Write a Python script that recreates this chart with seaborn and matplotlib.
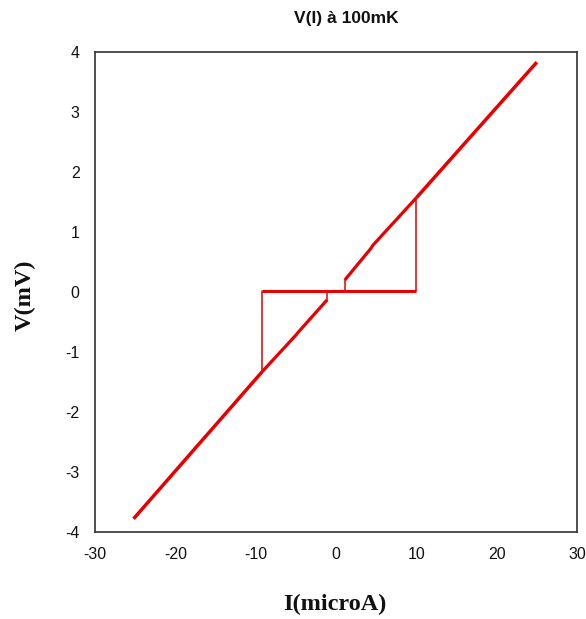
import matplotlib
matplotlib.use("Agg")
import matplotlib.pyplot as plt
import seaborn as sns
import pandas as pd

# Data (I in microA, V in mV)
lower_main_I = [-25.2, -9.2]
lower_main_V = [-3.78, -1.33]
lower_branch_I = [-9.2, -5.0, -4.7, -1.1]
lower_branch_V = [-1.33, -0.72, -0.67, -0.13]
zero_I = [-9.2, 10.0]
zero_V = [0.02, 0.02]
upper_branch_I = [1.1, 4.3, 4.6, 10.0]
upper_branch_V = [0.20, 0.72, 0.78, 1.57]
upper_main_I = [10.0, 25.0]
upper_main_V = [1.57, 3.83]

jump_I = [[-9.2, -9.2], [-1.1, -1.1], [1.1, 1.1], [10.0, 10.0]]
jump_V = [[0.02, -1.33], [-0.13, 0.02], [0.20, 0.02], [0.02, 1.57]]

xticks = [-30, -20, -10, 0, 10, 20, 30]
yticks = [-4, -3, -2, -1, 0, 1, 2, 3, 4]

sns.set_style("white")
plt.rcParams['font.family'] = ['Liberation Sans', 'DejaVu Sans']

fig = plt.figure(figsize=(5.86, 6.19), dpi=100)
ax = fig.add_axes([95/586, 1-532/619, 482/586, 480/619])

red = '#e80000'
thick = [(lower_main_I, lower_main_V, 2.5), (lower_branch_I, lower_branch_V, 2.3),
         (zero_I, zero_V, 2.2), (upper_branch_I, upper_branch_V, 2.3),
         (upper_main_I, upper_main_V, 2.5)]
for I, V, lw in thick:
    df = pd.DataFrame({'I': I, 'V': V})
    sns.lineplot(data=df, x='I', y='V', sort=False, estimator=None, color=red,
                 lw=lw, ax=ax, solid_capstyle='butt')
for I, V in zip(jump_I, jump_V):
    df = pd.DataFrame({'I': I, 'V': V})
    sns.lineplot(data=df, x='I', y='V', sort=False, estimator=None, color=red,
                 lw=1.1, ax=ax)

ax.set_xlim(-30, 30)
ax.set_ylim(-4, 4)
ax.set_xticks(xticks)
ax.set_yticks(yticks)
ax.set_xticklabels([str(t) for t in xticks])
ax.set_yticklabels([str(t) for t in yticks])
ax.tick_params(axis='both', length=0, labelsize=11.5, colors='#111111')
ax.tick_params(axis='x', pad=11)
ax.tick_params(axis='y', pad=11)
ax.set_xlabel('')
ax.set_ylabel('')
for s in ax.spines.values():
    s.set_visible(True)
    s.set_color('#333333')
    s.set_linewidth(1.2)

fig.text(346/586, 1-18/619, 'V(I) à 100mK', ha='center', va='center',
         fontsize=12.5, fontweight='bold', color='#111111',
         family=['Liberation Sans', 'DejaVu Sans'])
fig.text(335/586, 1-604/619, 'I(microA)', ha='center', va='center',
         fontsize=17.5, fontweight='bold', color='#111111',
         family=['Liberation Serif', 'DejaVu Serif'])
fig.text(25/586, 1-295/619, 'V(mV)', ha='center', va='center', rotation=90,
         fontsize=17.5, fontweight='bold', color='#111111',
         family=['Liberation Serif', 'DejaVu Serif'])

fig.savefig('out.png', dpi=100)
